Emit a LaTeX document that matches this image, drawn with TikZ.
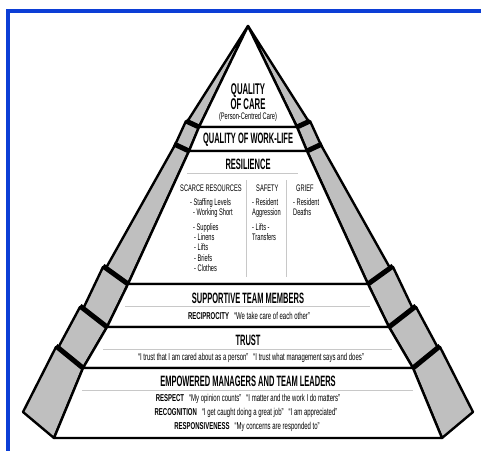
\documentclass[tikz,border=0pt]{standalone}
\usepackage{fontspec}
\newfontfamily\hdfont{Liberation Sans}[FakeStretch=0.5]
\newfontfamily\txfont{Liberation Sans}[FakeStretch=0.6]
\definecolor{framebl}{RGB}{12,62,214}
\definecolor{rulegr}{RGB}{200,200,200}
\tikzset{
  wall/.style={draw=black, fill=black!25, line width=2.4pt, line join=round},
  layer/.style={draw=black, fill=white, line width=2.4pt, line join=round},
  joint/.style={line width=5pt},
  rulel/.style={draw=rulegr, line width=1pt},
  head/.style={font=\hdfont\bfseries\fontsize{15}{12}\selectfont, inner sep=0pt, align=center},
  quote/.style={font=\txfont\fontsize{10}{10}\selectfont, inner sep=0pt},
  item/.style={font=\txfont\fontsize{9.5}{10.3}\selectfont, inner sep=0pt, anchor=north west, align=left},
}
\begin{document}
\begin{tikzpicture}[x=1pt, y=-1pt]
    \useasboundingbox (0,0) rectangle (481,450);
    \draw[line width=4pt, framebl] (7.8,455) -- (7.8,10.8) -- (486,10.8);
    \foreach \sd in {1,-1}{
    \begin{scope}[shift={(248,0)}, xscale=\sd]
        \draw[wall] (0,26) -- (-61,122) -- (-49,127) -- cycle;
        \draw[wall] (-62,121) -- (-73,145) -- (-59,151) -- (-49,127) -- cycle;
        \draw[wall] (-73,145) -- (-142,268) -- (-120,284) -- (-59,151) -- cycle;
        \draw[wall] (-145,267) -- (-165,309) -- (-141,327) -- (-120,284) -- cycle;
        \draw[wall] (-168,307) -- (-190,348) -- (-165,368) -- (-141,327) -- cycle;
        \draw[wall] (-192,347) -- (-225,412) -- (-194,438) -- (-165,368) -- cycle;
        \draw[joint] (-62,121) -- (-49,127);
        \draw[joint] (-74,144) -- (-59,151);
        \draw[joint] (-145,266) -- (-120,284);
        \draw[joint] (-168,306) -- (-141,327);
        \draw[joint] (-192,346) -- (-165,368);
    \end{scope}
    }
    \begin{scope}[shift={(248,0)}]
        \draw[layer] (-49,127) -- (0,26) -- (49,127) -- cycle;
        \draw[layer] (-49,127) -- (49,127) -- (59,151) -- (-59,151) -- cycle;
        \draw[layer] (-59,151) -- (59,151) -- (120,284) -- (-120,284) -- cycle;
        \draw[layer] (-120,284) -- (120,284) -- (141,327) -- (-141,327) -- cycle;
        \draw[layer] (-141,327) -- (141,327) -- (165,368) -- (-165,368) -- cycle;
        \draw[layer] (-165,368) -- (165,368) -- (194,438) -- (-194,438) -- cycle;
        \draw[rulel] (-61,173) -- (50,173);
        \draw[rulel] (-2,180) -- (-2,277);
        \draw[rulel] (38,180) -- (38,277);
        \draw[rulel] (-123,306.5) -- (122,306.5);
        \draw[rulel] (-145,349) -- (144,349);
        \draw[rulel] (-166,390) -- (165,390);
    \end{scope}
    \node[head, font=\hdfont\bfseries\fontsize{15.5}{12.5}\selectfont] (care) at (248,97) {QUALITY\\OF CARE};
    \node[quote, font=\txfont\fontsize{9.5}{9}\selectfont] (pcc) at (248,117.5) {(Person-Centred Care)};
    \node[head] (work) at (248,140) {QUALITY OF WORK-LIFE};
    \node[head] (resil) at (248,164) {RESILIENCE};
    \node[item, anchor=west] (scarce) at (180,188) {SCARCE RESOURCES};
    \node[item, anchor=west] (safety) at (256,188) {SAFETY};
    \node[item, anchor=west] (grief) at (296,188) {GRIEF};
    \node[item] (scarcelist) at (190,198) {-\,Staffing Levels\\\hspace{3pt}-\,Working Short\\[4.5pt]\hspace{3pt}-\,Supplies\\\hspace{4pt}-\,Linens\\\hspace{4pt}-\,Lifts\\\hspace{4pt}-\,Briefs\\\hspace{4pt}-\,Clothes};
    \node[item] (safetylist) at (252,198) {-\,Resident\\Aggression\\[4.5pt]-\,Lifts -\\Transfers};
    \node[item] (grieflist) at (293,198) {-\,Resident\\Deaths};
    \node[head] (supp) at (248,298) {SUPPORTIVE TEAM MEMBERS};
    \node[quote] (recip) at (249,316) {\textbf{RECIPROCITY}\enspace “We take care of each other”};
    \node[head] (trust) at (248,340) {TRUST};
    \node[quote] (trustq) at (251,357.5) {“I trust that I am cared about as a person”\enspace “I trust what management says and does”};
    \node[head] (emp) at (248,381.5) {EMPOWERED MANAGERS AND TEAM LEADERS};
    \node[quote] (resp) at (248,398.5) {\textbf{RESPECT}\enspace “My opinion counts”\enspace “I matter and the work I do matters”};
    \node[quote] (recog) at (246,412.5) {\textbf{RECOGNITION}\enspace “I get caught doing a great job”\enspace “I am appreciated”};
    \node[quote] (respon) at (247,427) {\textbf{RESPONSIVENESS}\enspace “My concerns are responded to”};
\end{tikzpicture}
\end{document}
